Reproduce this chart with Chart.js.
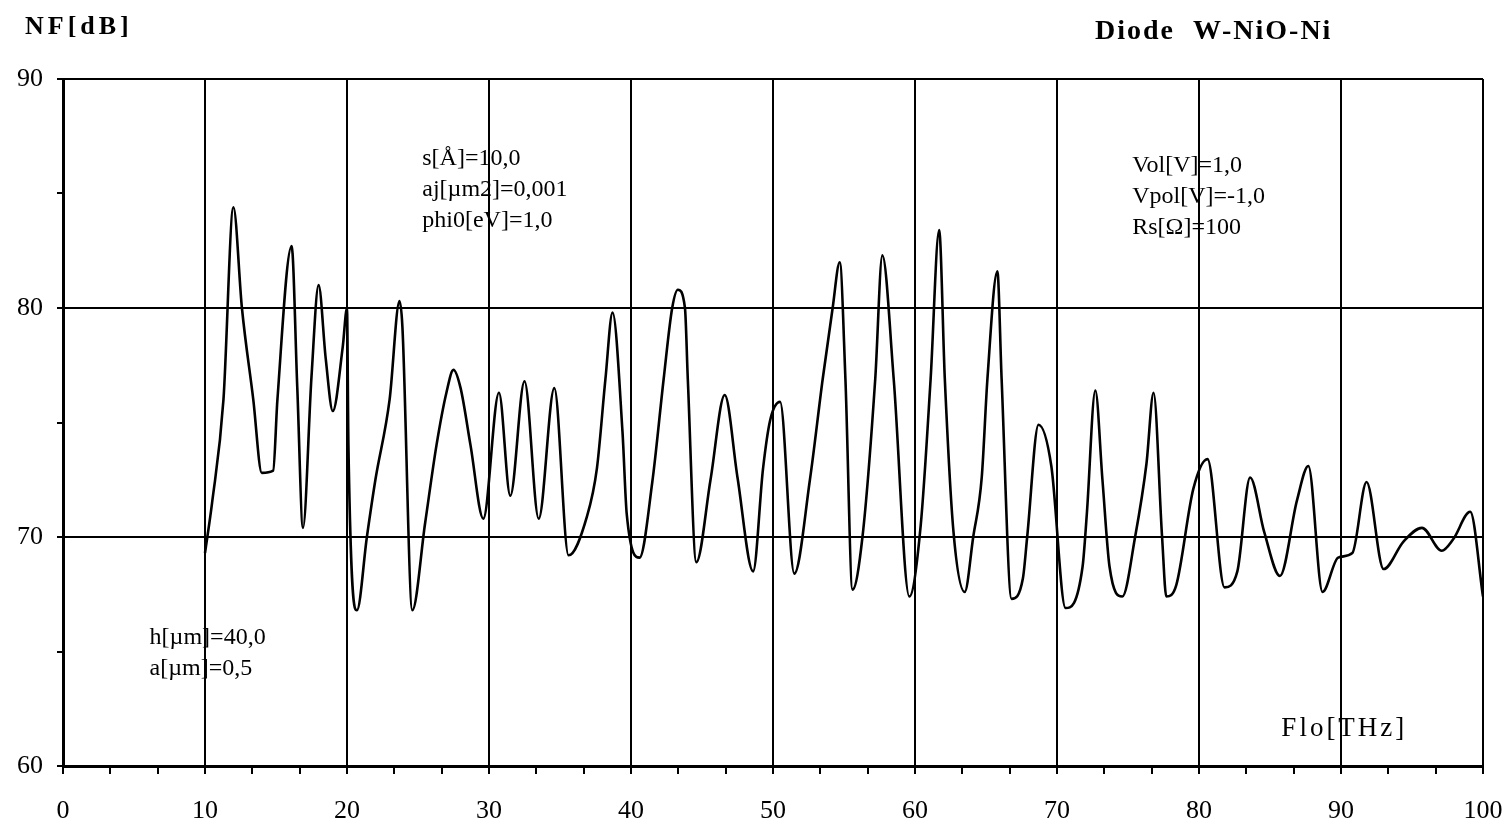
<!DOCTYPE html>
<html>
<head>
<meta charset="utf-8">
<script src="https://cdn.jsdelivr.net/npm/chart.js@4/dist/chart.umd.min.js"></script>
<style>
  html, body { margin: 0; padding: 0; background: #fff; }
  #wrap { width: 1511px; height: 833px; }
</style>
</head>
<body>
<div id="wrap"><canvas id="nfChart"></canvas></div>
<script>
// NF vs local-oscillator frequency, W-NiO-Ni diode
const flo = [
  10.0, 10.5, 11.3, 12.0, 12.6, 13.4, 14.0, 14.8, 15.1, 16.1, 16.5, 16.9, 17.5, 18.0, 18.5, 19.0, 19.7, 20.0, 20.1, 20.7,
  21.4, 22.0, 23.0, 23.7, 23.9, 24.6, 25.5, 26.3, 27.0, 27.5, 28.0, 28.7, 29.6, 30.7, 31.5, 32.5, 33.5, 34.6, 35.6, 36.9,
  37.6, 38.2, 38.7, 39.4, 39.7, 40.6, 41.5, 42.3, 42.9, 43.3, 43.8, 44.0, 44.6, 45.6, 46.6, 47.5, 48.6, 49.3, 49.8, 50.5,
  51.5, 52.6, 53.5, 54.2, 54.7, 55.1, 55.6, 56.3, 57.2, 57.7, 58.5, 59.6, 60.4, 61.1, 61.7, 62.1, 62.7, 63.5, 64.1, 64.7,
  65.1, 65.8, 66.1, 66.8, 67.6, 67.9, 68.7, 69.6, 70.6, 71.8, 72.1, 72.7, 73.2, 73.7, 74.6, 75.5, 76.3, 76.8, 77.4, 77.7,
  78.4, 79.6, 80.6, 81.8, 82.7, 83.6, 84.6, 85.7, 86.9, 87.7, 88.7, 89.8, 90.8, 91.8, 93.0, 94.4, 95.7, 97.1, 97.9, 99.1,
  100.0
];
const nf = [
  69.3, 71.5, 76.0, 84.4, 80.0, 76.0, 72.8, 72.9, 76.0, 82.7, 76.5, 70.4, 77.0, 81.0, 77.8, 75.5, 78.3, 80.0, 74.0, 66.8,
  70.0, 72.5, 76.0, 80.3, 79.2, 66.8, 70.6, 74.0, 76.3, 77.3, 76.5, 74.0, 70.8, 76.3, 71.8, 76.8, 70.8, 76.5, 69.2, 70.9,
  73.0, 76.9, 79.8, 74.6, 71.0, 69.1, 72.4, 76.9, 80.0, 80.8, 80.0, 76.9, 68.9, 72.5, 76.2, 72.6, 68.5, 73.0, 75.1, 75.9,
  68.4, 72.5, 76.9, 80.0, 82.0, 76.9, 67.7, 70.0, 76.9, 82.3, 76.9, 67.4, 70.5, 76.9, 83.4, 76.9, 70.3, 67.6, 70.0, 72.6,
  76.9, 81.6, 76.9, 67.3, 68.2, 70.0, 74.9, 73.1, 66.9, 68.7, 71.0, 76.4, 72.5, 68.7, 67.4, 70.0, 73.2, 76.3, 70.0, 67.4,
  67.9, 72.1, 73.4, 67.8, 68.5, 72.6, 70.2, 68.3, 71.6, 73.1, 67.6, 69.1, 69.3, 72.4, 68.6, 69.8, 70.4, 69.4, 69.9, 71.1,
  67.4
];
const xTickLabels = ['0', '10', '20', '30', '40', '50', '60', '70', '80', '90', '100'];
const yTickLabels = ['60', '70', '80', '90'];

const SERIF = "'Liberation Serif', 'DejaVu Serif', serif";
const isMajor = (v, step) => Math.abs(v / step - Math.round(v / step)) < 1e-6;

// free text: parameters written inside the plot, placed in data units
const notes = [
  { x: 25.3, y: 86.5, lines: ['s[Å]=10,0', 'aj[µm2]=0,001', 'phi0[eV]=1,0'] },
  { x: 75.3, y: 86.2, lines: ['Vol[V]=1,0', 'Vpol[V]=-1,0', 'Rs[Ω]=100'] },
  { x: 6.1, y: 65.6, lines: ['h[µm]=40,0', 'a[µm]=0,5'] }
];

const textPlugin = {
  id: 'textPlugin',
  afterDraw(chart) {
    const ctx = chart.ctx, xs = chart.scales.x, ys = chart.scales.y;
    ctx.save();
    ctx.fillStyle = '#000';
    ctx.textBaseline = 'middle';
    ctx.textAlign = 'left';

    ctx.font = '24px ' + SERIF;
    notes.forEach(n => {
      const x0 = xs.getPixelForValue(n.x), y0 = ys.getPixelForValue(n.y);
      n.lines.forEach((t, i) => ctx.fillText(t, x0, y0 + i * 31));
    });

    ctx.font = '27px ' + SERIF;
    ctx.letterSpacing = '3px';
    ctx.fillText('Flo[THz]', xs.getPixelForValue(85.8), ys.getPixelForValue(61.6));

    ctx.font = 'bold 26px ' + SERIF;
    ctx.letterSpacing = '4px';
    ctx.fillText('NF[dB]', 25, 27);
    ctx.font = 'bold 28px ' + SERIF;
    ctx.letterSpacing = '2px';
    ctx.fillText('Diode  W-NiO-Ni', 1095, 32);
    ctx.restore();
  }
};

new Chart(document.getElementById('nfChart').getContext('2d'), {
  type: 'line',
  data: {
    datasets: [{
      data: flo.map((x, i) => ({ x: x, y: nf[i] })),
      borderColor: '#000',
      borderWidth: 2.6,
      pointRadius: 0,
      cubicInterpolationMode: 'monotone',
      fill: false
    }]
  },
  options: {
    responsive: true,
    maintainAspectRatio: false,
    animation: false,
    layout: { padding: { top: 79, right: 28, left: 0, bottom: 0 } },
    plugins: { legend: { display: false }, tooltip: { enabled: false } },
    scales: {
      x: {
        type: 'linear', min: 0, max: 100,
        afterFit: s => { s.height = 67; s.paddingLeft = 0; s.paddingRight = 0; },
        border: { color: '#000', width: 3 },
        grid: {
          color: c => (c.tick && isMajor(c.tick.value, 10)) ? '#000' : 'rgba(0,0,0,0)',
          tickColor: '#000', lineWidth: 2, tickLength: 8
        },
        ticks: {
          stepSize: 10 / 3, autoSkip: false, maxRotation: 0, padding: 22,
          color: '#000', font: { family: SERIF, size: 26 },
          callback: v => isMajor(v, 10) ? xTickLabels[Math.round(v / 10)] : ''
        }
      },
      y: {
        min: 60, max: 90,
        afterFit: s => { s.width = 63; },
        border: { color: '#000', width: 3 },
        grid: {
          color: c => (c.tick && isMajor(c.tick.value, 10)) ? '#000' : 'rgba(0,0,0,0)',
          tickColor: '#000', lineWidth: 2, tickLength: 6
        },
        ticks: {
          stepSize: 5, autoSkip: false, padding: 14,
          color: '#000', font: { family: SERIF, size: 26 },
          callback: v => isMajor(v, 10) ? yTickLabels[Math.round((v - 60) / 10)] : ''
        }
      }
    }
  },
  plugins: [textPlugin]
});
</script>
</body>
</html>
